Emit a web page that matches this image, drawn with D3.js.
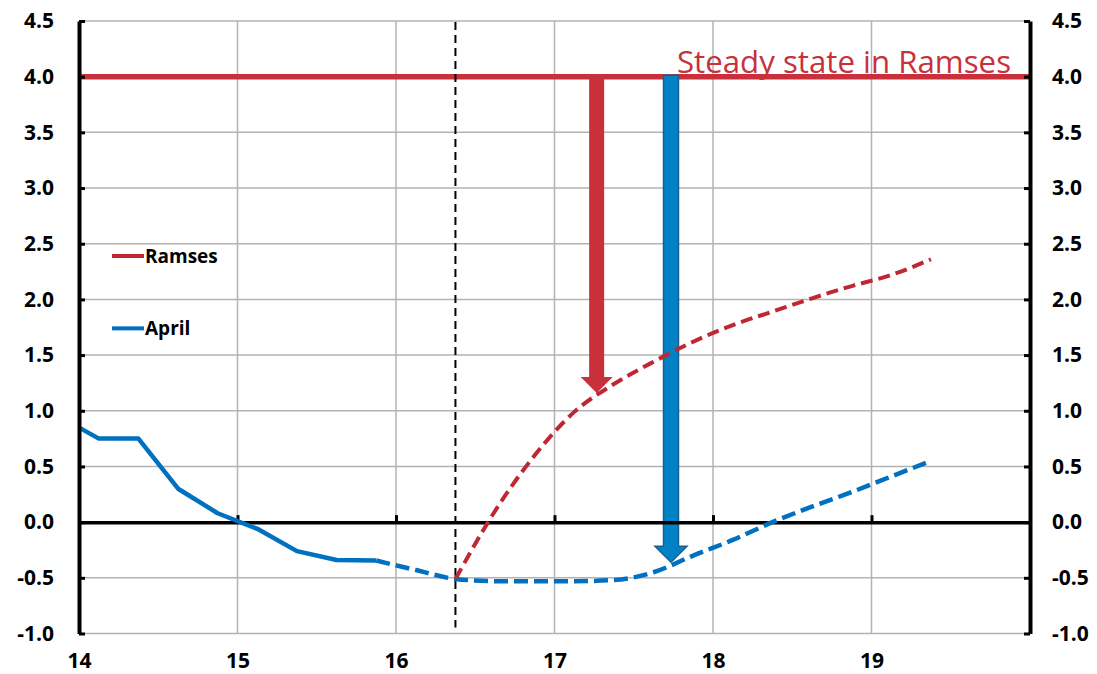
<!DOCTYPE html>
<html>
<head>
<meta charset="utf-8">
<script src="https://cdn.jsdelivr.net/npm/d3@7"></script>
<style>
  html, body { margin: 0; padding: 0; background: #fff; }
  svg { display: block; }
</style>
</head>
<body>
<svg id="chart" width="1097" height="674"></svg>
<script>
// Policy rate paths (quarterly, plotted at mid-quarter)
const aprilHistX = [13.875, 14.125, 14.375, 14.625, 14.875, 15.125, 15.375, 15.625, 15.875];
const aprilHistY = [0.95, 0.75, 0.75, 0.30, 0.08, -0.06, -0.26, -0.34, -0.345];

const aprilProjX = [15.875, 16.125, 16.375, 16.625, 16.875, 17.125, 17.375, 17.625, 17.875, 18.125, 18.375, 18.625, 18.875, 19.125, 19.375];
const aprilProjY = [-0.345, -0.43, -0.51, -0.53, -0.53, -0.53, -0.52, -0.45, -0.30, -0.16, 0.0, 0.14, 0.27, 0.41, 0.55];

const ramsesX = [16.375, 16.625, 16.875, 17.125, 17.375, 17.625, 17.875, 18.125, 18.375, 18.625, 18.875, 19.125, 19.375];
const ramsesY = [-0.51, 0.10, 0.60, 0.99, 1.24, 1.44, 1.62, 1.77, 1.89, 2.01, 2.12, 2.22, 2.36];

const steadyState = 4.0;
const forecastStart = 16.375;

// Gap arrows from the steady state down to each path
const arrowX = [17.266, 17.735];
const arrowTip = [1.16, -0.36];

const xTicks = [14, 15, 16, 17, 18, 19];
const yTicks = [-1.0, -0.5, 0.0, 0.5, 1.0, 1.5, 2.0, 2.5, 3.0, 3.5, 4.0, 4.5];
const legendLabels = ["Ramses", "April"];

(function draw() {
  const RED = "#C8313B";
  const RED_LINE = "#BF2833";
  const BLUE = "#0070C0";
  const BLUE_ARROW = "#0082C6";
  const BLUE_EDGE = "#1B5F90";
  const GRID = "#B3B3B3";
  const FONT = "'Open Sans', 'Liberation Sans', sans-serif";

  const svg = d3.select("#chart");
  const pLeft = 79, pRight = 1030, pTop = 21, pBottom = 633.5;

  const x = d3.scaleLinear().domain([14, 20]).range([pLeft, pRight]);
  const y = d3.scaleLinear().domain([-1, 4.5]).range([pBottom, pTop]);

  svg.append("rect").attr("width", 1097).attr("height", 674).attr("fill", "#fff");

  svg.append("defs").append("clipPath").attr("id", "plot")
    .append("rect").attr("x", pLeft).attr("y", pTop).attr("width", pRight - pLeft).attr("height", pBottom - pTop);

  // Grid
  const grid = svg.append("g");
  grid.selectAll("line.h").data(yTicks).join("line").attr("class", "h")
    .attr("x1", pLeft).attr("x2", pRight)
    .attr("y1", d => y(d)).attr("y2", d => y(d))
    .attr("stroke", GRID).attr("stroke-width", 1.5);
  grid.selectAll("line.v").data(xTicks.slice(1)).join("line").attr("class", "v")
    .attr("x1", d => x(d)).attr("x2", d => x(d))
    .attr("y1", pTop).attr("y2", pBottom)
    .attr("stroke", GRID).attr("stroke-width", 1.5);

  // Steady state level
  svg.append("line")
    .attr("x1", pLeft).attr("x2", pRight)
    .attr("y1", y(steadyState)).attr("y2", y(steadyState))
    .attr("stroke", RED).attr("stroke-width", 5.5);

  // Arrows
  function arrowPath(cx, y0, y1, halfShaft, halfHead, headLen) {
    const p = d3.path();
    p.moveTo(cx - halfShaft, y0);
    p.lineTo(cx + halfShaft, y0);
    p.lineTo(cx + halfShaft, y1 - headLen);
    p.lineTo(cx + halfHead, y1 - headLen);
    p.lineTo(cx, y1);
    p.lineTo(cx - halfHead, y1 - headLen);
    p.lineTo(cx - halfShaft, y1 - headLen);
    p.closePath();
    return p.toString();
  }
  const arrowStyle = [
    { fill: RED, stroke: "none", half: 7.5, start: y(steadyState) },
    { fill: BLUE_ARROW, stroke: BLUE_EDGE, half: 7.5, start: y(steadyState) - 1.5 }
  ];
  svg.append("g").selectAll("path").data(arrowX).join("path")
    .attr("d", (d, i) => arrowPath(x(d), arrowStyle[i].start, y(arrowTip[i]), arrowStyle[i].half, 16, 16))
    .attr("fill", (d, i) => arrowStyle[i].fill)
    .attr("stroke", (d, i) => arrowStyle[i].stroke)
    .attr("stroke-width", 1.5)
    .attr("stroke-linejoin", "miter");

  // Zero line with upward ticks
  const zeroAxis = svg.append("g")
    .attr("transform", `translate(0,${y(0)})`)
    .call(d3.axisBottom(x).tickValues(xTicks.slice(1)).tickSize(-7).tickSizeOuter(0).tickFormat(""));
  zeroAxis.select(".domain").attr("stroke", "#000").attr("stroke-width", 3.5);
  zeroAxis.selectAll(".tick line").attr("stroke", "#000").attr("stroke-width", 3);

  // Forecast start marker
  svg.append("line")
    .attr("x1", x(forecastStart)).attr("x2", x(forecastStart))
    .attr("y1", pTop + 1).attr("y2", pBottom - 6)
    .attr("stroke", "#000").attr("stroke-width", 2)
    .attr("stroke-dasharray", "8,5");

  // Series
  const lineGen = d3.line().x(d => x(d[0])).y(d => y(d[1]));
  const smoothGen = d3.line().x(d => x(d[0])).y(d => y(d[1])).curve(d3.curveMonotoneX);
  const plot = svg.append("g").attr("clip-path", "url(#plot)");

  plot.append("path")
    .datum(d3.zip(aprilHistX, aprilHistY))
    .attr("d", lineGen)
    .attr("fill", "none").attr("stroke", BLUE).attr("stroke-width", 4.5)
    .attr("stroke-linejoin", "round");

  plot.append("path")
    .datum(d3.zip(aprilProjX, aprilProjY))
    .attr("d", smoothGen)
    .attr("fill", "none").attr("stroke", BLUE).attr("stroke-width", 4.5)
    .attr("stroke-dasharray", "14,6");

  plot.append("path")
    .datum(d3.zip(ramsesX, ramsesY))
    .attr("d", smoothGen)
    .attr("fill", "none").attr("stroke", RED_LINE).attr("stroke-width", 4)
    .attr("stroke-dasharray", "12,6");

  // Axes
  const fmt = d => d.toFixed(1);
  const yLeft = svg.append("g")
    .attr("transform", `translate(${pLeft},0)`)
    .call(d3.axisLeft(y).tickValues(yTicks).tickSize(-6).tickSizeOuter(0).tickPadding(25).tickFormat(fmt));
  const yRight = svg.append("g")
    .attr("transform", `translate(${pRight},0)`)
    .call(d3.axisRight(y).tickValues(yTicks).tickSize(-6).tickSizeOuter(0).tickPadding(22).tickFormat(fmt));
  [yLeft, yRight].forEach(g => {
    g.select(".domain").attr("stroke", "#000").attr("stroke-width", 4);
    g.selectAll(".tick line").attr("stroke", "#000").attr("stroke-width", 3);
    g.selectAll(".tick text")
      .attr("fill", "#000")
      .style("font-family", FONT).style("font-size", "21px").style("font-weight", 700);
  });

  const xLabels = svg.append("g")
    .attr("transform", `translate(0,${pBottom})`)
    .call(d3.axisBottom(x).tickValues(xTicks).tickSize(0).tickPadding(20).tickFormat(d3.format("d")));
  xLabels.select(".domain").remove();
  xLabels.selectAll(".tick text")
    .attr("fill", "#000")
    .style("font-family", FONT).style("font-size", "21px").style("font-weight", 700);

  // Legend
  const legendColors = [RED_LINE, BLUE];
  const legendY = [y(2.39), y(1.74)];
  const legend = svg.append("g").selectAll("g").data(legendLabels).join("g")
    .attr("transform", (d, i) => `translate(112,${legendY[i]})`);
  legend.append("line")
    .attr("x1", 0).attr("x2", 32).attr("y1", 0).attr("y2", 0)
    .attr("stroke", (d, i) => legendColors[i]).attr("stroke-width", 4);
  legend.append("text")
    .attr("x", 33).attr("y", 7)
    .style("font-family", FONT).style("font-size", "19px").style("font-weight", 700)
    .attr("fill", "#000")
    .text(d => d);

  // Steady state label
  const label = svg.append("text")
    .attr("x", 677).attr("y", y(steadyState) - 4)
    .attr("fill", RED)
    .style("font-family", FONT).style("font-size", "28px")
    .text("Steady state in Ramses");
  const w = label.node().getComputedTextLength();
  label.style("font-size", (28 * 334 / w).toFixed(2) + "px");
})();
</script>
</body>
</html>
